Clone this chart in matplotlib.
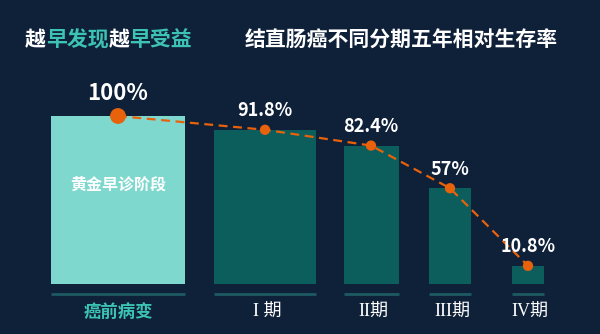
import matplotlib.pyplot as plt

# data
stages = ['癌前病变', 'I 期', 'II期', 'III期', 'IV期']
survival = [100, 91.8, 82.4, 57, 10.8]
value_labels = ['100%', '91.8%', '82.4%', '57%', '10.8%']

# layout (pixel-ish x positions of bars)
centers = [118, 265, 371, 450, 528]
widths = [134, 102, 55, 42, 32]

bg = '#0f2039'
teal_txt = '#3cc3b4'
orange = '#e8620c'
cjk = ['Noto Sans CJK SC', 'DejaVu Sans']

fig = plt.figure(figsize=(6, 3.34), dpi=100, facecolor=bg)
ax = fig.add_axes([0, 0, 1, 1])
ax.set_facecolor(bg)
ax.set_xlim(0, 600)
ax.set_ylim(-29.76, 169.05)
ax.axis('off')

colors = ['#7ed8cd'] + ['#0b5e5b'] * 4
ax.bar(centers, survival, width=widths, color=colors, zorder=2)

# thin baseline segments under each bar
for c, w in zip(centers, widths):
    ax.plot([c - w / 2, c + w / 2], [-6, -6], color='#1d5a62', lw=2, solid_capstyle='butt')

ax.plot(centers, survival, color=orange, lw=1.6, ls=(0, (4, 2.5)), zorder=3)
ax.scatter(centers, survival, s=[130, 55, 55, 55, 55], color=orange, zorder=4, linewidths=0)

for i, (c, v, t) in enumerate(zip(centers, survival, value_labels)):
    fs = 16 if i == 0 else 13
    ax.annotate(t, (c, v), xytext=(0, 8 if i == 0 else 7), textcoords='offset points',
                ha='center', va='bottom', color='white', fontsize=fs, fontweight='bold',
                family=cjk)

ax.text(centers[0], 59, '黄金早诊阶段', ha='center', va='center', color='white',
        fontsize=11.5, fontweight='bold', family=cjk)

# x labels
ax.text(centers[0], -16.7, stages[0], ha='center', va='center', color=teal_txt,
        fontsize=12.5, fontweight='bold', family=cjk)
for c, s in zip(centers[1:], stages[1:]):
    ax.text(c + 2, -16.7, s, ha='center', va='center', color='white',
            fontsize=13, family=['Liberation Serif', 'Noto Sans CJK SC'])

# titles
parts = [('越', 'white'), ('早发现', teal_txt), ('越', 'white'), ('早受益', teal_txt)]
fig.canvas.draw()
r = fig.canvas.get_renderer()
x = 25
for txt, col in parts:
    t = fig.text(x / 600, 1 - 40 / 334, txt, color=col, fontsize=15, fontweight='bold',
                 family=cjk, va='center', ha='left')
    x += t.get_window_extent(renderer=r).width
fig.text(245 / 600, 1 - 40 / 334, '结直肠癌不同分期五年相对生存率', color='white',
         fontsize=15, fontweight='bold', family=cjk, va='center', ha='left')

fig.savefig('out.png', dpi=100, facecolor=bg)
